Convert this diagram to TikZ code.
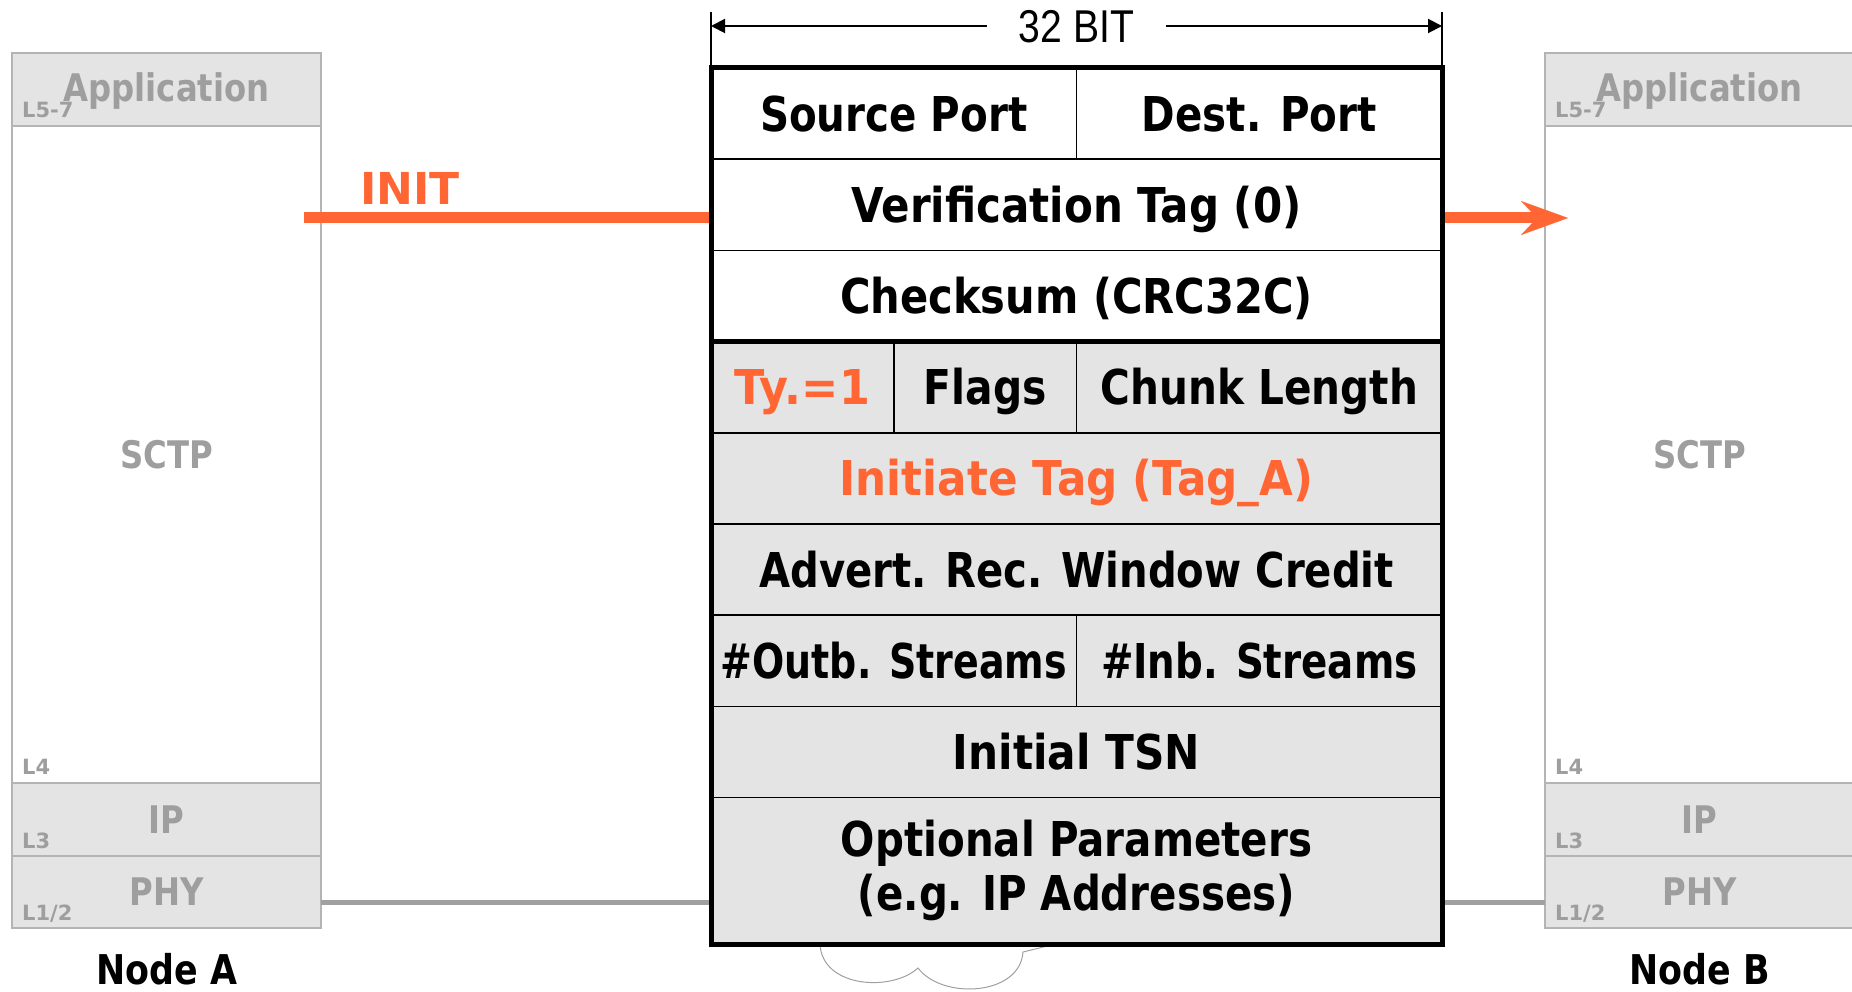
\documentclass[tikz,border=0pt]{standalone}
\usepackage{fontspec}
\usepackage{graphicx}
\setmainfont{DejaVu Sans}
\newfontfamily\tah[FakeStretch=0.85,WordSpace=0.7]{DejaVu Sans}
\newfontfamily\tahl[FakeStretch=0.85]{DejaVu Sans}
\newfontfamily\narr[FakeStretch=0.85]{Liberation Sans}
\usetikzlibrary{arrows.meta}
\definecolor{orng}{HTML}{FF6633}
\definecolor{lgray}{HTML}{E4E4E4}
\definecolor{tgray}{HTML}{9E9E9E}
\definecolor{bgray}{HTML}{B4B4B4}
\definecolor{wgray}{HTML}{A0A0A0}
\newcommand\pktfont{\tah\bfseries\fontsize{48}{54}\selectfont}
\newcommand\lblfont{\tahl\bfseries\fontsize{38}{42}\selectfont}
\newcommand\hsc[2]{\scalebox{#1}[1]{#2}}
\begin{document}
\begin{tikzpicture}[x=1pt,y=-1pt,
  pktcell/.style={draw=black, line width=1.5pt, anchor=north west, inner sep=0pt, outer sep=0pt,
    minimum height=91.2pt, text height=35pt, text depth=0pt, font=\pktfont},
  layerbox/.style={draw=bgray, line width=1.5pt, anchor=north west, inner sep=0pt, outer sep=0pt,
    minimum width=309pt, text height=27.7pt, text depth=0pt, font=\lblfont, text=tgray},
  lyrtag/.style={anchor=base west, inner sep=0pt, text=tgray, font=\bfseries\fontsize{21}{22}\selectfont},
  nodelbl/.style={inner sep=0pt, text height=30pt, text depth=0pt, font=\tahl\bfseries\fontsize{41}{44}\selectfont},
  initln/.style={draw=orng, line width=11pt},
  wireln/.style={draw=wgray, line width=5pt},
  dimln/.style={draw=black, line width=2pt, -{Triangle[length=14pt,width=14pt]}},
  ticklin/.style={draw=black, line width=1.2pt},
  cloudln/.style={draw=wgray, line width=1pt},
  framethick/.style={draw=black, line width=5pt}
]
\useasboundingbox (0,0) rectangle (1852,992);

% cloud behind the packet
\coordinate (c0) at (820,944);
\coordinate (c1) at (918,968);
\coordinate (c2) at (1023,952);
\coordinate (c3) at (1052,944);
\draw[cloudln] (c0) .. controls (822,988) and (892,992) .. (c1)
  .. controls (942,1000) and (1020,996) .. (c2)
  .. controls (1035,949) and (1045,947) .. (c3);

% Node A stack
\node[layerbox, fill=lgray, minimum height=73pt] (appA) at (12,53) {\raisebox{1.5pt}{Application}};
\node[layerbox, fill=white, minimum height=657pt] (sctpA) at (12,126) {SCTP};
\node[layerbox, fill=lgray, minimum height=73pt] (ipA) at (12,783) {IP};
\node[layerbox, fill=lgray, minimum height=72pt] (phyA) at (12,856) {PHY};
\node[lyrtag] (tA57) at (22,118) {L5-7};
\node[lyrtag] (tA4) at (22,774) {L4};
\node[lyrtag] (tA3) at (22,848) {L3};
\node[lyrtag] (tA12) at (22,920) {L1/2};
\node[nodelbl] (nA) at (167,969) {Node A};

% Node B stack
\node[layerbox, fill=lgray, minimum height=73pt] (appB) at (1545,53) {\raisebox{1.5pt}{Application}};
\node[layerbox, fill=white, minimum height=657pt] (sctpB) at (1545,126) {SCTP};
\node[layerbox, fill=lgray, minimum height=73pt] (ipB) at (1545,783) {IP};
\node[layerbox, fill=lgray, minimum height=72pt] (phyB) at (1545,856) {PHY};
\node[lyrtag] (tB57) at (1555,118) {L5-7};
\node[lyrtag] (tB4) at (1555,774) {L4};
\node[lyrtag] (tB3) at (1555,848) {L3};
\node[lyrtag] (tB12) at (1555,920) {L1/2};
\node[nodelbl] (nB) at (1700,969) {Node B};

% packet cells
\node[pktcell, fill=white, minimum width=365.5pt] (sp) at (711,68) {\hsc{0.99}{Source Port}};
\node[pktcell, fill=white, minimum width=365.5pt] (dp) at (1076.5,68) {\hsc{0.99}{Dest. Port}};
\node[pktcell, fill=white, minimum width=731pt] (vt) at (711,159.2) {\hsc{1.03}{Verification Tag (0)}};
\node[pktcell, fill=white, minimum width=731pt] (cs) at (711,250.4) {\hsc{1.02}{Checksum (CRC32C)}};
\node[pktcell, fill=lgray, minimum width=182.75pt, text=orng] (ty) at (711,341.6) {\hsc{1.09}{Ty.=1}};
\node[pktcell, fill=lgray, minimum width=182.75pt] (fl) at (893.75,341.6) {Flags};
\node[pktcell, fill=lgray, minimum width=365.5pt] (cl) at (1076.5,341.6) {\hsc{0.995}{Chunk Length}};
\node[pktcell, fill=lgray, minimum width=731pt, text=orng] (it) at (711,432.8) {\hsc{1.07}{Initiate Tag (Tag\_A)}};
\node[pktcell, fill=lgray, minimum width=731pt] (ar) at (711,524) {\hsc{0.985}{Advert. Rec. Window Credit}};
\node[pktcell, fill=lgray, minimum width=365.5pt] (os) at (711,615.2) {\hsc{0.93}{\#Outb. Streams}};
\node[pktcell, fill=lgray, minimum width=365.5pt] (is) at (1076.5,615.2) {\hsc{0.95}{\#Inb. Streams}};
\node[pktcell, fill=lgray, minimum width=731pt] (tsn) at (711,706.4) {\hsc{1.035}{Initial TSN}};
\node[draw=black, line width=1.5pt, anchor=north west, inner sep=0pt, outer sep=0pt,
  minimum width=731pt, minimum height=146.4pt, fill=lgray, align=center, font=\pktfont] (opt)
  at (711,797.6) {\hsc{0.99}{Optional Parameters}\\\hsc{0.99}{(e.g. IP Addresses)}};

% wires at the bottom
\draw[wireln] ([yshift=-10pt]phyA.east) -- ([yshift=-10pt]phyA.east -| opt.west);
\draw[wireln] ([yshift=-10pt]phyB.west) -- ([yshift=-10pt]phyB.west -| opt.east);

% INIT arrow
\coordinate (initS) at (304,218);
\coordinate (initE) at (1568,218);
\draw[initln] (initS) -- (initS -| vt.west);
\draw[initln, -{Stealth[length=47pt,width=34pt,inset=16pt,line width=0.1pt]}] (initS -| vt.east) -- (initE);
\node[anchor=base, inner sep=0pt, text=orng, font=\bfseries\fontsize{44}{48}\selectfont] (initL) at (410,205) {INIT};

% thick frames
\draw[framethick] (sp.north west) rectangle (opt.south east);
\draw[framethick] (ty.north west) -- (cl.north east);

% 32 bit dimension
\coordinate (tkL) at (711,12);
\coordinate (tkR) at (1442,12);
\draw[ticklin] (tkL) -- (sp.north west);
\draw[ticklin] (tkR) -- (dp.north east);
\node[inner xsep=32pt, inner ysep=0pt, text height=33pt, text depth=0pt, font=\narr\fontsize{46}{50}\selectfont] (dim) at (1076.5,26) {32 BIT};
\draw[dimln] (dim.west) -- (tkL |- dim.west);
\draw[dimln] (dim.east) -- (tkR |- dim.east);
\end{tikzpicture}
\end{document}
